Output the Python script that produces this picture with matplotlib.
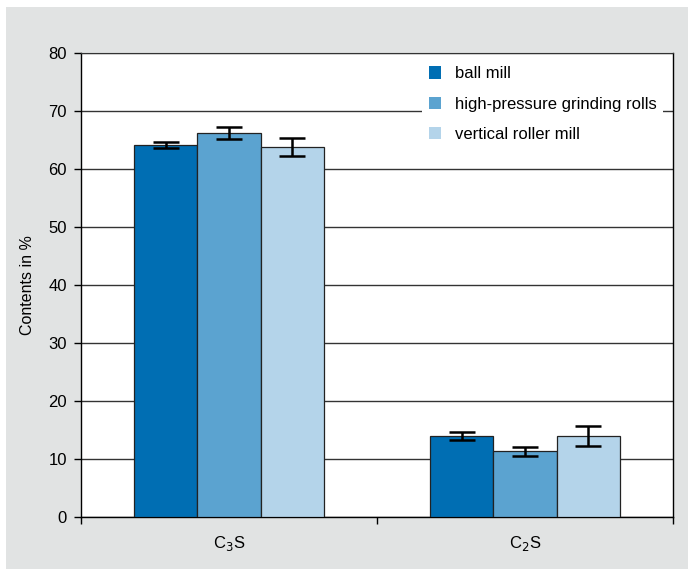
import matplotlib.pyplot as plt
import matplotlib.patches as mpatches
import numpy as np

plt.rcParams['font.family'] = ['Liberation Sans', 'DejaVu Sans']

phases = ['C$_3$S', 'C$_2$S']
mills = ['ball mill', 'high-pressure grinding rolls', 'vertical roller mill']
contents = [
    [64.2, 14.0],   # ball mill
    [66.2, 11.3],   # high-pressure grinding rolls
    [63.8, 14.0],   # vertical roller mill
]
errors = [
    [0.5, 0.7],
    [1.0, 0.7],
    [1.6, 1.7],
]
colors = ['#006eb3', '#5ba3d0', '#b4d4ea']

fig = plt.figure(figsize=(6.88, 5.7), dpi=100)
# grey panel behind the axes
fig.patches.append(mpatches.Rectangle((6 / 688, 1 - 569 / 570), 682 / 688, 562 / 570,
                                      transform=fig.transFigure, facecolor='#e1e3e3',
                                      edgecolor='none', zorder=-1))
ax = fig.add_axes([81 / 688, 1 - 517 / 570, 592 / 688, 464 / 570])
ax.set_facecolor('white')

x = np.arange(len(phases))
width = 0.213
for i, mill in enumerate(mills):
    ax.bar(x + (i - 1) * width, contents[i], width, color=colors[i], edgecolor='#222222',
           linewidth=0.9, label=mill, zorder=3)
    ax.errorbar(x + (i - 1) * width, contents[i], yerr=errors[i], fmt='none', ecolor='black',
                elinewidth=1.8, capsize=9.5, capthick=1.8, zorder=4)

ax.set_xlim(-0.5, 1.5)
ax.set_ylim(0, 80)
ax.set_yticks(range(0, 81, 10))
ax.set_xticks([-0.5, 0.5, 1.5], minor=False)
ax.set_xticklabels([])
ax.set_xticks(x, minor=True)
ax.set_xticklabels(phases, minor=True, fontsize=12)
ax.tick_params(axis='x', which='minor', length=0, pad=12)
ax.tick_params(axis='x', which='major', length=5, width=1, direction='out')
ax.tick_params(axis='y', length=5, width=1, direction='out', labelsize=12, pad=5)
ax.yaxis.grid(True, color='#333333', linewidth=1.0, zorder=0)
ax.set_axisbelow(True)
for side in ['left', 'bottom', 'right']:
    ax.spines[side].set_color('black')
    ax.spines[side].set_linewidth(1.0)
ax.spines['top'].set_color('#333333')

ax.set_ylabel('Contents in %', fontsize=11.5, labelpad=10)

leg = ax.legend(loc='upper right', bbox_to_anchor=(0.995, 1.0), frameon=True, fontsize=12,
                handlelength=0.72, handleheight=0.8, handletextpad=0.85, labelspacing=0.9,
                borderpad=0.4, borderaxespad=0.4, fancybox=False)
leg.get_frame().set_facecolor('white')
leg.get_frame().set_edgecolor('none')
leg.get_frame().set_alpha(1)
leg.set_zorder(5)
for h in leg.legend_handles:
    h.set_edgecolor('none')

fig.savefig('out.png', dpi=100, facecolor='white')
